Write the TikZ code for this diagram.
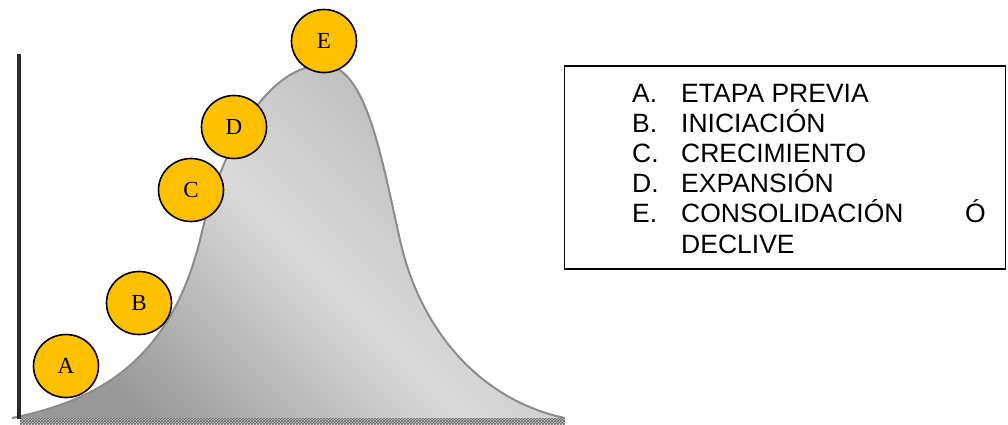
\documentclass[tikz,border=0pt]{standalone}
\usepackage{fontspec}
\setmainfont{Liberation Serif}
\newfontfamily\arialfont{Liberation Sans}
\usetikzlibrary{shapes.geometric,patterns}
\definecolor{stagegold}{HTML}{FFC000}
\definecolor{axisdark}{HTML}{2B2B2B}
\definecolor{curveedge}{HTML}{8C8C8C}
\definecolor{shdark}{HTML}{989898}
\definecolor{shlight}{HTML}{DADADA}
\definecolor{shtop}{HTML}{B6B6B6}
\begin{document}
\begin{tikzpicture}[x=1pt,y=-1pt,
  stage/.style={ellipse,draw=black,line width=1.6pt,fill=stagegold,minimum width=65pt,minimum height=63pt,inner sep=0pt,font=\fontsize{23}{23}\selectfont},
  legendtxt/.style={anchor=base west,inner sep=0pt,font=\arialfont\fontsize{26.5}{30}\selectfont}]
\useasboundingbox (0,0) rectangle (1008,424);
% bottom hatched strip
\fill[gray!45] (20,418) rectangle (565,424);
\fill[pattern=crosshatch,pattern color=gray!75!black] (20,418) rectangle (565,424);
% curve
\shade[top color=shtop,bottom color=shdark,middle color=shlight,shading angle=-45]
  (12,418) .. controls (100,400) and (170,360) .. (200,240)
  .. controls (225,130) and (275,65) .. (323,65)
  .. controls (365,65) and (380,150) .. (400,240)
  .. controls (420,330) and (480,400) .. (565,418) -- cycle;
\draw[curveedge,line width=2pt]
  (12,418) .. controls (100,400) and (170,360) .. (200,240)
  .. controls (225,130) and (275,65) .. (323,65)
  .. controls (365,65) and (380,150) .. (400,240)
  .. controls (420,330) and (480,400) .. (565,418);
% axis
\coordinate (axtop) at (19,54);
\coordinate (axbot) at (19,419);
\draw[axisdark,line width=4pt] (axtop) -- (axbot);
% stages
\node[stage] (A) at (66,366) {A};
\node[stage] (B) at (139,303) {B};
\node[stage] (C) at (191,190) {C};
\node[stage] (D) at (234,127) {D};
\node[stage] (E) at (324,41) {E};
% legend
\node[draw=black,line width=1.5pt,minimum width=441pt,minimum height=203pt,inner sep=0pt] (legend) at (785,167.5) {};
\node[legendtxt] (la) at (632,102.5) {A.};
\node[legendtxt] (lat) at (681,102.5) {ETAPA PREVIA};
\node[legendtxt] (lb) at (632,132) {B.};
\node[legendtxt] (lbt) at (681,132) {INICIACIÓN};
\node[legendtxt] (lc) at (632,162) {C.};
\node[legendtxt] (lct) at (681,162) {CRECIMIENTO};
\node[legendtxt] (ld) at (632,192) {D.};
\node[legendtxt] (ldt) at (681,192) {EXPANSIÓN};
\node[legendtxt] (le) at (632,222) {E.};
\node[legendtxt] (let) at (681,222) {CONSOLIDACIÓN};
\node[legendtxt,anchor=base east] (leo) at (986,222) {Ó};
\node[legendtxt] (let2) at (681,253) {DECLIVE};
\end{tikzpicture}
\end{document}
